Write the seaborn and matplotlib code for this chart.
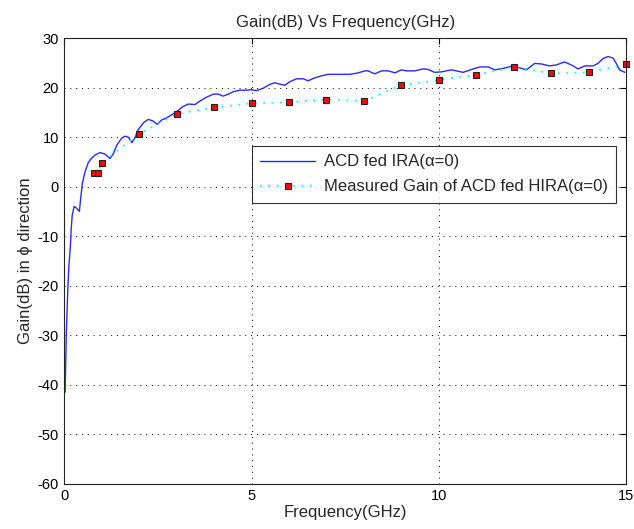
"""Gain(dB) vs frequency: simulated ACD fed IRA vs measured HIRA gain."""
import matplotlib
matplotlib.use("Agg")
import matplotlib.pyplot as plt
import seaborn as sns

# simulated curve, ACD fed IRA (alpha=0)
sim_freq = [0.02, 0.05, 0.09, 0.12, 0.16, 0.18, 0.21, 0.26, 0.32, 0.40, 0.44, 0.48,
            0.55, 0.64, 0.72, 0.82, 0.95, 1.08, 1.22, 1.31, 1.40, 1.53, 1.62, 1.71,
            1.80, 1.88, 1.97, 2.11, 2.24, 2.36, 2.48, 2.60, 2.73, 2.86, 3.00, 3.17,
            3.31, 3.49, 3.62, 3.80, 3.98, 4.11, 4.24, 4.38, 4.51, 4.69, 4.87, 5.00,
            5.13, 5.31, 5.50, 5.62, 5.76, 5.89, 6.02, 6.20, 6.38, 6.51, 6.69, 6.87,
            7.04, 7.27, 7.63, 7.85, 8.02, 8.11, 8.29, 8.47, 8.65, 8.83, 9.00, 9.14,
            9.36, 9.58, 9.71, 9.89, 10.07, 10.34, 10.65, 10.92, 11.10, 11.32, 11.50,
            11.72, 11.98, 12.21, 12.34, 12.56, 12.74, 12.96, 13.14, 13.36, 13.54,
            13.72, 13.90, 14.12, 14.25, 14.39, 14.52, 14.65, 14.74, 14.83, 14.97]
sim_gain = [-41.5, -30.0, -21.0, -16.0, -12.0, -8.7, -5.7, -4.0, -4.3, -5.0, -2.0, 0.7,
            3.0, 4.9, 5.7, 6.4, 6.9, 6.6, 5.7, 6.7, 8.4, 9.8, 10.2, 10.0,
            8.9, 9.8, 11.5, 12.9, 13.6, 13.3, 12.6, 13.5, 13.9, 14.5, 15.2, 16.2,
            16.7, 16.6, 17.3, 18.1, 18.7, 18.7, 18.3, 18.7, 19.2, 19.5, 19.5, 19.6,
            19.4, 19.9, 20.7, 21.0, 20.7, 20.5, 21.2, 21.8, 21.8, 21.4, 22.0, 22.4,
            22.7, 22.7, 22.7, 23.0, 23.4, 23.4, 22.8, 23.4, 23.4, 23.0, 23.6, 23.4,
            23.4, 23.8, 23.7, 23.1, 23.2, 23.6, 23.1, 23.8, 24.2, 24.2, 23.6,
            23.9, 24.4, 23.9, 23.6, 24.9, 24.8, 24.4, 24.6, 25.2, 24.6,
            23.8, 24.4, 24.4, 24.9, 25.9, 26.3, 26.0, 24.9, 23.6, 23.1]

# measured gain, ACD fed HIRA (alpha=0)
meas_freq = [0.8, 0.9, 1, 2, 3, 4, 5, 6, 7, 8, 9, 10, 11, 12, 13, 14, 15]
meas_gain = [2.8, 2.8, 4.85, 10.7, 14.7, 16.0, 16.85, 17.05, 17.6, 17.3, 20.5,
             21.55, 22.6, 24.2, 22.9, 23.1, 24.7]

x_ticks = [0, 5, 10, 15]
y_ticks = [-60, -50, -40, -30, -20, -10, 0, 10, 20, 30]

sns.set_style("white")
plt.rcParams["font.family"] = ["Liberation Sans", "DejaVu Sans"]
plt.rcParams["font.size"] = 10.5
plt.rcParams["axes.unicode_minus"] = False

fig = plt.figure(figsize=(6.34, 5.29), dpi=100)
ax = fig.add_axes([64.4 / 634, 1 - 483.7 / 529, 561.6 / 634, 445.5 / 529])

sns.lineplot(x=sim_freq, y=sim_gain, ax=ax, color="#2a2aff", linewidth=1.0,
             label="ACD fed IRA(\u03b1=0)", sort=False)
sns.lineplot(x=meas_freq, y=meas_gain, ax=ax, color="cyan", linewidth=1.2,
             linestyle=(0, (1, 4)), marker="s", markersize=5,
             markerfacecolor="red", markeredgecolor="#202020", markeredgewidth=0.8,
             label="Measured Gain of ACD fed HIRA(\u03b1=0)", sort=False, clip_on=False)

ax.set_xlim(0, 15)
ax.set_ylim(-60, 30)
ax.set_xticks(x_ticks)
ax.set_yticks(y_ticks)
ax.grid(True, color="black", linestyle=(0, (1, 5)), linewidth=0.7)
ax.tick_params(direction="in", length=4, width=0.8, colors="black",
               top=True, right=True, pad=4, labelsize=10.5)
for s in ax.spines.values():
    s.set_color("#222222")
    s.set_linewidth(0.8)

ax.set_title("Gain(dB) Vs Frequency(GHz)", fontsize=12, pad=8)
ax.set_xlabel("Frequency(GHz)", fontsize=12, labelpad=1)
ax.set_ylabel("Gain(dB) in \u03d5 direction", fontsize=12, labelpad=3)

leg = ax.legend(loc="upper left", bbox_to_anchor=(0.334, 0.758), borderaxespad=0,
                frameon=True, fancybox=False, handlelength=3.3, fontsize=12,
                borderpad=0.5, labelspacing=0.6, handletextpad=0.5)
leg.get_frame().set_edgecolor("black")
leg.get_frame().set_linewidth(0.8)

fig.savefig("out.png", dpi=100)
